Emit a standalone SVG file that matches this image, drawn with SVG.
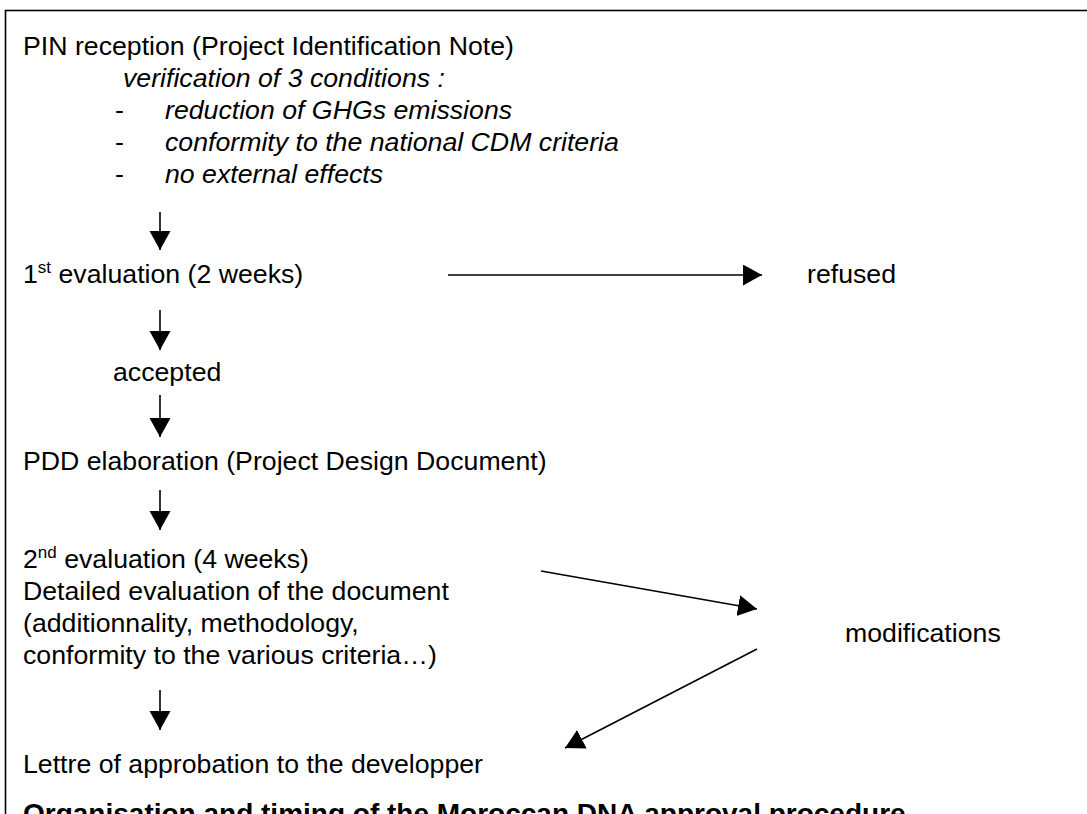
<svg xmlns="http://www.w3.org/2000/svg" width="1087" height="814" viewBox="0 0 1087 814">
<style>
.t{font-family:"Liberation Sans",Arial,Helvetica,sans-serif;font-size:26.7px;fill:#000}
.i{font-style:italic}
.b{font-weight:bold;font-size:28px}
.sup{font-size:17px}
.c{stroke:#000;stroke-width:1.6;fill:none}
</style>
<defs>
<marker id="ah" markerUnits="userSpaceOnUse" markerWidth="20" markerHeight="22" refX="19" refY="10.5" orient="auto">
<path d="M0,0 L19,10.5 L0,21 z" fill="#000"/>
</marker>
</defs>
<rect x="0" y="0" width="1087" height="814" fill="#fff"/>
<rect x="5.5" y="10.5" width="1090" height="900" fill="none" stroke="#000" stroke-width="1.6"/>
<g id="pin">
<text class="t" x="23" y="55">PIN reception (Project Identification Note)</text>
<text class="t i" x="123" y="87">verification of 3 conditions :</text>
<text class="t" x="115" y="119">-</text>
<text class="t i" x="165" y="119">reduction of GHGs emissions</text>
<text class="t" x="115" y="151">-</text>
<text class="t i" x="165" y="151">conformity to the national CDM criteria</text>
<text class="t" x="115" y="183">-</text>
<text class="t i" x="165" y="183">no external effects</text>
</g>
<g id="eval1"><text class="t" x="23" y="283">1<tspan class="sup" dy="-10">st</tspan><tspan dy="10"> evaluation (2 weeks)</tspan></text></g>
<g id="refused"><text class="t" x="807" y="283">refused</text></g>
<g id="accepted"><text class="t" x="113" y="381">accepted</text></g>
<g id="pdd"><text class="t" x="23" y="470">PDD elaboration (Project Design Document)</text></g>
<g id="eval2">
<text class="t" x="23" y="568">2<tspan class="sup" dy="-10">nd</tspan><tspan dy="10"> evaluation (4 weeks)</tspan></text>
<text class="t" x="23" y="600">Detailed evaluation of the document</text>
<text class="t" x="23" y="632">(additionnality, methodology,</text>
<text class="t" x="23" y="664">conformity to the various criteria…)</text>
</g>
<g id="modifications"><text class="t" x="845" y="642">modifications</text></g>
<g id="lettre"><text class="t" x="23" y="773">Lettre of approbation to the developper</text></g>
<g id="title"><text class="t b" x="23" y="823">Organisation and timing of the Moroccan DNA approval procedure</text></g>
<g id="connectors" class="c">
<line x1="160" y1="212" x2="160" y2="250" marker-end="url(#ah)"/>
<line x1="448" y1="275" x2="762" y2="275" marker-end="url(#ah)"/>
<line x1="160" y1="310" x2="160" y2="350" marker-end="url(#ah)"/>
<line x1="160" y1="395" x2="160" y2="437" marker-end="url(#ah)"/>
<line x1="160" y1="490" x2="160" y2="530" marker-end="url(#ah)"/>
<line x1="541" y1="571" x2="757" y2="609" marker-end="url(#ah)"/>
<line x1="757" y1="649" x2="565" y2="748" marker-end="url(#ah)"/>
<line x1="160" y1="690" x2="160" y2="730" marker-end="url(#ah)"/>
</g>
</svg>
